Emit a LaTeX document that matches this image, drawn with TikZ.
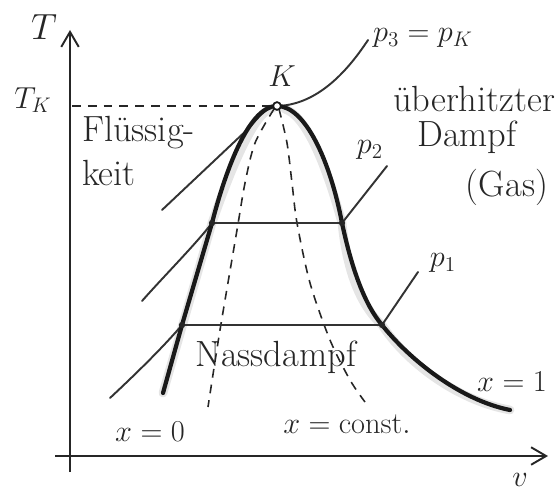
\documentclass[tikz,border=0pt]{standalone}
\usepackage{tikz}
\usetikzlibrary{arrows.meta}

\begin{document}
\begin{tikzpicture}[
    x=0.02cm, y=-0.02cm, font=\LARGE,
    axis/.style={draw=black!85, line width=1.1pt},
    dome/.style={draw=black!90, line width=2.4pt, line cap=round},
    smudge/.style={draw=black!10, line width=5pt, line cap=round},
    iso/.style={draw=black!80, line width=1.1pt, line cap=round},
    quality/.style={draw=black!85, line width=0.9pt, dash pattern=on 5pt off 4pt},
    joint/.style={fill=black!85},
    lbl/.style={inner sep=1pt, text=black!85},
    word/.style={lbl, font=\huge},
    >={Straight Barb[length=3mm, width=3.5mm]},
  ]
    \useasboundingbox (0,0) rectangle (557,500);

    % axes
    \coordinate (tbot) at (70,472);
    \coordinate (ttop) at (70,30);
    \coordinate (vleft) at (55,456);
    \coordinate (vright) at (548,456);
    \draw[axis, ->] (tbot) -- (ttop);
    \draw[axis, ->] (vleft) -- (vright);

    % critical point and isobar end points
    \coordinate (K) at (277,106);
    \coordinate (TKaxis) at (72,106);
    \coordinate (oneL) at (182,325);
    \coordinate (oneR) at (382,325);
    \coordinate (twoL) at (212,223);
    \coordinate (twoR) at (342,223);
    \coordinate (oneStart) at (110,398);
    \coordinate (oneEnd) at (418,272);
    \coordinate (twoStart) at (142,301);
    \coordinate (twoEnd) at (387,166);
    \coordinate (threeStart) at (162,210);
    \coordinate (threeBend) at (249,128);
    \coordinate (threeEnd) at (368,40);
    \coordinate (domeStart) at (163,393);
    \coordinate (domeEnd) at (510,410);
    \coordinate (qLeftEnd) at (208,407);
    \coordinate (qRightEnd) at (365,402);

    % pencil shading inside the dome
    \draw[smudge, xshift=3pt] (domeStart) -- (twoL) .. controls (227,165) and (250,110) .. (268,108);
    \draw[smudge, xshift=-3pt] (290,109) .. controls (310,115) and (330,160) .. (twoR)
      .. controls (352,270) and (365,305) .. (oneR) .. controls (410,360) and (460,400) .. (domeEnd);

    % T_K
    \draw[quality] (TKaxis) -- (K);

    % lines of constant x
    \draw[quality] plot[smooth] coordinates {(274,109) (255,143) (245,183) (237,230) (220,330) (qLeftEnd)};
    \draw[quality] plot[smooth] coordinates {(279,109) (287,143) (292,183) (297,223) (310,283) (330,340) (350,380) (qRightEnd)};

    % isobars
    \draw[iso] (oneStart) .. controls (140,370) and (165,345) .. (oneL) -- (oneR) -- (oneEnd);
    \draw[iso] (twoStart) .. controls (165,275) and (195,245) .. (twoL) -- (twoR) -- (twoEnd);
    \draw[iso] (threeStart) -- (threeBend) .. controls (258,118) and (266,107) .. (K) .. controls (315,105) and (345,75) .. (threeEnd);

    % saturation curve
    \draw[dome] (domeStart) -- (oneL) -- (twoL) .. controls (227,165) and (250,106) .. (K)
      .. controls (305,106) and (330,160) .. (twoR)
      .. controls (352,270) and (365,305) .. (oneR)
      .. controls (410,360) and (460,400) .. (domeEnd);

    \fill[joint] (oneL) circle (1.8pt);
    \fill[joint] (oneR) circle (1.8pt);
    \fill[joint] (twoL) circle (1.8pt);
    \fill[joint] (twoR) circle (1.8pt);
    \draw[black!90, line width=1pt, fill=white] (K) circle (2.2pt);

    % labels
    \node[lbl, font=\huge] (lblT) at (44,27) {$T$};
    \node[lbl] (lblTK) at (33,100) {$T_K$};
    \node[lbl] (lblK) at (282,76) {$K$};
    \node[word, anchor=north west, align=left] (fluid) at (80,114) {Flüssig-\\keit};
    \node[lbl] (lblThree) at (423,38) {$p_3 = p_K$};
    \node[lbl] (lblTwo) at (370,150) {$p_2$};
    \node[lbl] (lblOne) at (443,263) {$p_1$};
    \node[word, anchor=base] (gasA) at (474,112) {überhitzter};
    \node[word, anchor=base] (gasB) at (467,146) {Dampf};
    \node[word] (gasC) at (507,187) {(Gas)};
    \node[word] (wet) at (276,357) {Nassdampf};
    \node[lbl] (lblXone) at (512,382) {$x = 1$};
    \node[lbl] (lblXconst) at (347,424) {$x = \mathrm{const.}$};
    \node[lbl] (lblXzero) at (150,432) {$x = 0$};
    \node[lbl] (lblV) at (520,480) {$v$};
  \end{tikzpicture}
\end{document}
